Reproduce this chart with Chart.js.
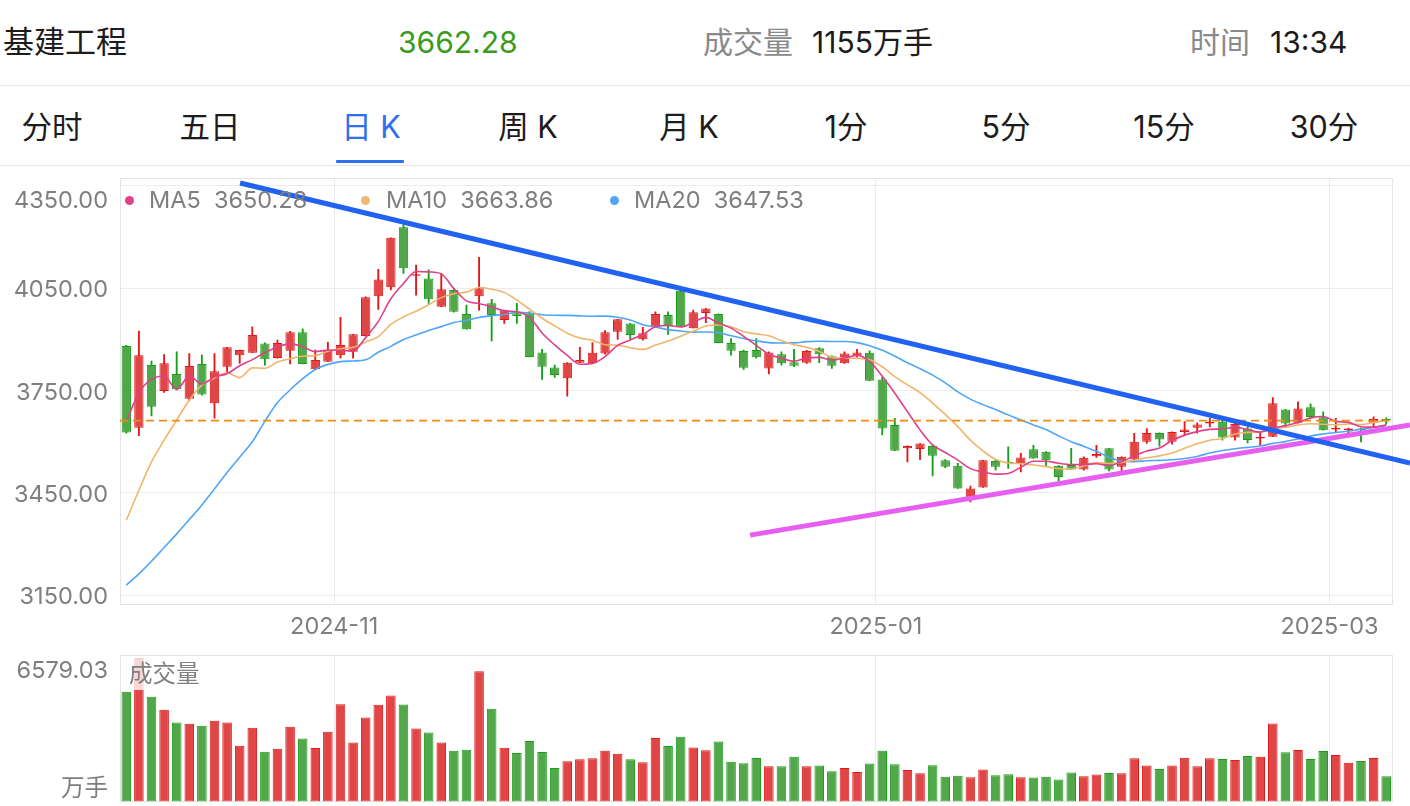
<!DOCTYPE html>
<html>
<head>
<meta charset="utf-8">
<script src="https://cdn.jsdelivr.net/npm/chart.js@4.4.1/dist/chart.umd.min.js"></script>
<style>
html,body{margin:0;padding:0;background:#fff;width:1410px;height:806px;overflow:hidden;
  font-family:Inter,"Noto Sans CJK SC",sans-serif;}
.t{position:absolute;white-space:nowrap;height:40px;line-height:40px;}
.h{font-size:30px;color:#1c1c1c;}
.tab{position:absolute;width:160px;text-align:center;font-size:30.5px;color:#1c1c1c;top:107px;height:40px;line-height:40px;}
.line{position:absolute;left:0;width:1410px;height:1px;background:#e9e9e9;}
.dot{position:absolute;width:9px;height:9px;border-radius:50%;}
.lg{position:absolute;font-size:23.5px;color:#7f7f7f;white-space:nowrap;height:30px;line-height:30px;top:185px;}
canvas{position:absolute;left:0;}
#volTag{position:absolute;left:125px;top:658px;width:80px;height:32px;background:rgba(255,255,255,0.78);
  font-size:23.5px;color:#7f7f7f;line-height:32px;padding-left:4px;box-sizing:border-box;}
</style>
</head>
<body>
<div class="t h" style="left:3px;top:22px;font-size:31px;">基建工程</div>
<div class="t h" style="left:398px;top:22px;color:#3c9a1c;">3662.28</div>
<div class="t h" style="left:703px;top:22px;color:#8a8a8a;">成交量</div>
<div class="t h" style="left:812px;top:22px;">1155万手</div>
<div class="t h" style="left:1190px;top:22px;color:#8a8a8a;">时间</div>
<div class="t h" style="left:1270px;top:22px;">13:34</div>
<div class="line" style="top:85px;"></div>

<div class="tab" style="left:-28px;">分时</div>
<div class="tab" style="left:130px;">五日</div>
<div class="tab" style="left:291px;color:#2f6ff0;">日 K</div>
<div class="tab" style="left:448px;">周 K</div>
<div class="tab" style="left:609px;">月 K</div>
<div class="tab" style="left:766px;">1分</div>
<div class="tab" style="left:926px;">5分</div>
<div class="tab" style="left:1084px;">15分</div>
<div class="tab" style="left:1244px;">30分</div>
<div style="position:absolute;left:336px;top:160px;width:68px;height:3px;background:#2f6ff0;border-radius:1px;"></div>
<div class="line" style="top:165px;"></div>

<canvas id="main" width="1410" height="470" style="top:170px;"></canvas>
<canvas id="vol" width="1410" height="166" style="top:640px;"></canvas>

<div class="dot" style="left:124.5px;top:195.5px;background:#e0408c;"></div>
<div class="lg" style="left:149px;">MA5&nbsp;&nbsp;3650.28</div>
<div class="dot" style="left:360.5px;top:195.5px;background:#f3b86e;"></div>
<div class="lg" style="left:386px;">MA10&nbsp;&nbsp;3663.86</div>
<div class="dot" style="left:609.5px;top:195.5px;background:#4ea6f4;"></div>
<div class="lg" style="left:634px;">MA20&nbsp;&nbsp;3647.53</div>
<div id="volTag">成交量</div>

<script>
// ---------------- data ----------------
const openP = [3881,3641,3825,3749,3799,3726,3828,3713,3820,3854,
  3861,3888,3846,3867,3921,3813,3835,3854,3864,3910,
  4027,4053,4229,4087,4079,3996,4045,3975,4027,4006,
  3957,3977,3977,3862,3818,3786,3832,3830,3859,3923,
  3947,3901,3937,3972,4043,3933,3978,3975,3890,3866,
  3869,3815,3857,3833,3832,3874,3851,3830,3854,3861,
  3783,3649,3581,3579,3588,3546,3530,3437,3466,3544,
  3541,3537,3578,3571,3530,3532,3519,3558,3581,3527,
  3548,3600,3626,3600,3629,3641,3654,3659,3613,3639,
  3610,3615,3695,3656,3701,3672,3636,3634,3639,3656,
  3666];
const highP = [3883,3925,3837,3856,3864,3859,3854,3859,3877,3869,
  3937,3890,3898,3924,3931,3869,3892,3965,3915,4025,
  4106,4198,4236,4118,4104,4094,4048,4001,4141,4018,
  3986,4006,3982,3871,3825,3832,3877,3891,3926,3959,
  3947,3936,3981,3981,4048,3986,3991,3975,3903,3869,
  3903,3864,3864,3871,3868,3876,3852,3864,3871,3867,
  3789,3669,3588,3595,3590,3548,3537,3470,3546,3548,
  3585,3566,3590,3571,3530,3581,3556,3590,3581,3556,
  3625,3639,3626,3629,3659,3656,3669,3664,3655,3644,
  3625,3730,3695,3717,3711,3688,3669,3640,3640,3673,
  3670];
const lowP = [3625,3618,3676,3745,3752,3722,3737,3669,3802,3830,
  3861,3825,3845,3828,3828,3813,3835,3845,3845,3910,
  3988,4045,4094,4030,4006,3996,3980,3930,3986,3896,
  3947,3947,3849,3783,3789,3734,3832,3830,3857,3900,
  3900,3898,3937,3915,3939,3933,3949,3890,3854,3812,
  3845,3799,3825,3820,3830,3832,3815,3830,3848,3779,
  3620,3574,3541,3548,3500,3524,3463,3424,3466,3517,
  3522,3512,3551,3527,3485,3519,3517,3554,3515,3512,
  3547,3595,3587,3593,3620,3625,3644,3605,3605,3597,
  3590,3615,3644,3655,3669,3634,3629,3623,3600,3644,
  3652];
const closeP = [3627,3854,3703,3830,3754,3822,3739,3807,3877,3869,
  3913,3842,3890,3921,3828,3840,3866,3884,3915,4024,
  4076,4198,4109,4090,4018,4047,3981,3930,4050,3972,
  3986,3969,3849,3820,3796,3832,3840,3861,3921,3959,
  3913,3918,3975,3939,3939,3980,3991,3890,3867,3817,
  3848,3862,3830,3823,3866,3857,3823,3859,3862,3779,
  3639,3574,3588,3595,3559,3527,3463,3463,3546,3527,
  3537,3554,3551,3546,3497,3519,3553,3564,3519,3556,
  3600,3626,3607,3629,3636,3651,3659,3613,3652,3605,
  3613,3713,3654,3698,3673,3634,3641,3639,3634,3667,
  3662.28];
const volume = [5026,6579.03,4798,4204,3623,3564,3473,3701,3623,2559,
  3381,2285,2422,3427,2892,2453,3198,4464,2710,3852,
  4432,4857,4446,3349,3167,2710,2330,2376,5972,4249,
  2467,2225,2773,2271,1540,1842,1933,1979,2330,2193,
  1933,1796,2911,2545,2970,2481,2344,2755,1828,1750,
  1997,1613,1613,2056,1613,1645,1385,1540,1357,1737,
  2330,1705,1449,1293,1659,1129,1175,1111,1462,1202,
  1248,1111,1097,1129,1005,1325,1156,1234,1312,1293,
  1979,1645,1494,1645,2011,1613,1979,1951,1906,2088,
  2056,3578,2253,2362,1951,2317,2134,1782,1860,1997,
  1155];
const ma5 = [3659,3744,3783,3793,3753.6,3792.6,3769.6,3790.4,3799.8,3822.8,
  3841,3861.6,3878.2,3887,3878.8,3864.2,3869,3867.8,3866.6,3905.8,
  3953,4019.4,4064.4,4099.4,4098.2,4092.4,4049,4013.2,4005.2,3996,
  3983.8,3981.4,3965.2,3919.2,3884,3853.2,3827.4,3829.8,3850,3882.6,
  3898.8,3914.4,3937.2,3940.8,3936.8,3950.2,3964.8,3947.8,3933.4,3909,
  3882.6,3856.8,3844.8,3836,3845.8,3847.6,3839.8,3845.6,3853.4,3836,
  3792.4,3742.6,3688.4,3635,3591,3568.6,3546.4,3521.4,3511.6,3505.2,
  3507.2,3525.4,3543,3543,3537,3533.4,3533.2,3535.8,3530.4,3542.2,
  3558.4,3573,3581.6,3603.6,3619.6,3629.8,3636.4,3637.6,3642.2,3636,
  3628.4,3639.2,3647.4,3656.6,3670.2,3674.4,3660,3657,3644.2,3643,
  3650.28];
const ma10 = [3370,3458,3541,3605,3664,3722,3766,3787,3802,3788.2,
  3816.8,3815.6,3834.3,3843.4,3850.8,3852.6,3865.3,3873,3876.8,3892.3,
  3908.6,3944.2,3966.1,3983,4002,4022.7,4034.2,4038.8,4052.3,4047.1,
  4038.1,4015.2,3989.2,3962.2,3940,3918.5,3904.4,3897.5,3884.6,3883.3,
  3876,3870.9,3883.5,3895.4,3909.7,3924.5,3939.6,3942.5,3937.1,3922.9,
  3916.4,3910.8,3896.3,3884.7,3877.4,3865.1,3848.3,3845.2,3844.7,3840.9,
  3820,3791.2,3767,3744.2,3713.5,3680.5,3644.5,3604.9,3573.3,3548.1,
  3537.9,3535.9,3532.2,3527.3,3521.1,3520.3,3529.3,3539.4,3536.7,3539.6,
  3545.9,3553.1,3558.7,3567,3580.9,3594.1,3604.7,3609.6,3622.9,3627.8,
  3629.1,3637.8,3642.5,3649.4,3653.1,3651.4,3649.6,3652.2,3650.4,3656.6,
  3663.86];
const ma20 = [3180,3213,3250,3290,3330,3372,3415,3462,3510,3555,
  3600,3660,3715,3752,3785,3812,3827,3835,3837,3840.3,
  3862.7,3879.9,3900.2,3913.2,3926.4,3937.7,3949.8,3955.9,3964.6,3969.7,
  3973.4,3979.7,3977.7,3972.6,3971,3970.6,3969.3,3968.2,3968.5,3965.2,
  3957,3943,3936.4,3928.8,3924.9,3921.5,3922,3920,3910.9,3903.1,
  3896.2,3890.9,3889.9,3890.1,3893.6,3894.8,3894,3893.9,3890.9,3881.9,
  3868.2,3851,3831.7,3814.5,3795.5,3772.8,3746.4,3725.1,3709,3694.5,
  3679,3663.6,3649.6,3635.8,3617.3,3600.4,3586.9,3572.2,3555,3543.9,
  3541.9,3544.5,3545.5,3547.2,3551,3557.2,3567,3574.5,3579.8,3583.7,
  3587.5,3595.5,3600.6,3608.2,3617,3622.8,3627.2,3630.9,3636.7,3642.2,
  3647.53];
const yTickValues = [3150, 3450, 3750, 4050, 4350];
const xTickPos = [16.5, 59.5, 95.5];
const xTickLabels = ['2024-11', '2025-01', '2025-03'];
const refPrice = 3662.28;
const volMaxLabel = '6579.03';
const volUnit = '万手';
const trendDown = [[9.03, 4358.8], [101.89, 3537.7]];
const trendUp = [[49.51, 3326.5], [101.89, 3649.1]];

// ---------------- styles ----------------
const UP_FILL = '#e14646', UP_EDGE = '#e01818';
const DN_FILL = '#52a74b', DN_EDGE = '#17a017';
const isUp = i => closeP[i] >= openP[i];
const fillOf = c => isUp(c.dataIndex) ? UP_FILL : DN_FILL;
const edgeOf = c => isUp(c.dataIndex) ? UP_EDGE : DN_EDGE;
const AXIS_FONT = '23.5px Inter, "Noto Sans CJK SC", sans-serif';
const AXIS_COLOR = '#7f7f7f';
const GRID = '#ececec';

const idx = closeP.map((_, i) => i);

const boxPlugin = {
  id: 'box',
  beforeDatasetsDraw(chart) {
    const a = chart.chartArea, ctx = chart.ctx;
    ctx.save();
    ctx.strokeStyle = '#e4e4e4';
    ctx.lineWidth = 1;
    ctx.strokeRect(Math.round(a.left) + 0.5, Math.round(a.top) + 0.5,
      Math.round(a.right - a.left) - 1, Math.round(a.bottom - a.top) - 1);
    ctx.restore();
  }
};

const mainLabels = {
  id: 'mainLabels',
  afterDraw(chart) {
    const ctx = chart.ctx, a = chart.chartArea, ys = chart.scales.y, xs = chart.scales.x;
    ctx.save();
    ctx.font = AXIS_FONT;
    ctx.fillStyle = AXIS_COLOR;
    ctx.textAlign = 'right';
    ctx.textBaseline = 'middle';
    const top = Math.max(...yTickValues);
    yTickValues.forEach(v => {
      const dy = v === top ? 15 : 2;
      ctx.fillText(v.toFixed(2), 108, ys.getPixelForValue(v) + dy);
    });
    ctx.textAlign = 'center';
    xTickPos.forEach((p, k) => ctx.fillText(xTickLabels[k], xs.getPixelForValue(p), a.bottom + 22));
    ctx.restore();
  }
};

const volLabels = {
  id: 'volLabels',
  afterDraw(chart) {
    const ctx = chart.ctx, a = chart.chartArea;
    ctx.save();
    ctx.font = AXIS_FONT;
    ctx.fillStyle = AXIS_COLOR;
    ctx.textAlign = 'right';
    ctx.textBaseline = 'middle';
    ctx.fillText(volMaxLabel, 108, a.top + 16);
    ctx.fillText(volUnit, 108, 149);
    ctx.restore();
  }
};

const makeXScale = () => ({
  type: 'linear', min: -0.5, max: 100.5, offset: false,
  grid: { color: GRID, drawTicks: false, offset: false },
  border: { display: false },
  ticks: { display: false },
  afterBuildTicks: s => { s.ticks = xTickPos.map(v => ({ value: v })); }
});

const lineDs = (data, color, width, order, extra) => Object.assign({
  type: 'line', data, borderColor: color, borderWidth: width, pointRadius: 0,
  pointHoverRadius: 0, fill: false, order
}, extra || {});

new Chart(document.getElementById('main'), {
  type: 'bar',
  data: {
    datasets: [
      lineDs(trendDown.map(p => ({ x: p[0], y: p[1] })), '#2262f2', 5, 0, { clip: false }),
      lineDs(trendUp.map(p => ({ x: p[0], y: p[1] })), '#e65ff0', 5, 0, { clip: false }),
      lineDs([{ x: -0.5, y: refPrice }, { x: 100.5, y: refPrice }], '#f08c14', 1.8, 1, { borderDash: [8, 5] }),
      lineDs(idx.map(i => ({ x: i, y: ma5[i] })), '#df3f8b', 1.6, 2, { cubicInterpolationMode: 'monotone' }),
      lineDs(idx.map(i => ({ x: i, y: ma10[i] })), '#f2b46a', 1.6, 2, { cubicInterpolationMode: 'monotone' }),
      lineDs(idx.map(i => ({ x: i, y: ma20[i] })), '#4ea6f4', 1.6, 2, { cubicInterpolationMode: 'monotone' }),
      {
        type: 'bar', order: 3, grouped: false,
        data: idx.map(i => ({ x: i, y: [openP[i], closeP[i]] })),
        backgroundColor: fillOf, borderColor: edgeOf, borderWidth: 1, borderSkipped: false,
        barPercentage: 0.74, categoryPercentage: 1, minBarLength: 1.5
      },
      {
        type: 'bar', order: 4, grouped: false,
        data: idx.map(i => ({ x: i, y: [lowP[i], highP[i]] })),
        backgroundColor: edgeOf, borderWidth: 0, barThickness: 1.2
      }
    ]
  },
  options: {
    responsive: false, animation: false,
    layout: { padding: { left: 120, right: 17.5, top: 8, bottom: 35 } },
    plugins: { legend: { display: false }, tooltip: { enabled: false } },
    events: [],
    scales: {
      x: makeXScale(),
      y: {
        type: 'linear', min: 3121.55, max: 4373.45,
        grid: { color: GRID, drawTicks: false },
        border: { display: false },
        ticks: { display: false },
        afterBuildTicks: s => { s.ticks = yTickValues.map(v => ({ value: v })); }
      }
    }
  },
  plugins: [boxPlugin, mainLabels]
});

new Chart(document.getElementById('vol'), {
  type: 'bar',
  data: {
    datasets: [{
      data: idx.map(i => ({ x: i, y: volume[i] })),
      backgroundColor: fillOf, borderColor: edgeOf, borderWidth: 1, borderSkipped: false,
      barPercentage: 0.76, categoryPercentage: 1
    }]
  },
  options: {
    responsive: false, animation: false,
    layout: { padding: { left: 120, right: 17.5, top: 15, bottom: 4.5 } },
    plugins: { legend: { display: false }, tooltip: { enabled: false } },
    events: [],
    scales: {
      x: makeXScale(),
      y: {
        type: 'linear', min: 0, max: 6716.6,
        grid: { display: false, drawTicks: false },
        border: { display: false },
        ticks: { display: false }
      }
    }
  },
  plugins: [boxPlugin, volLabels]
});
</script>
</body>
</html>
